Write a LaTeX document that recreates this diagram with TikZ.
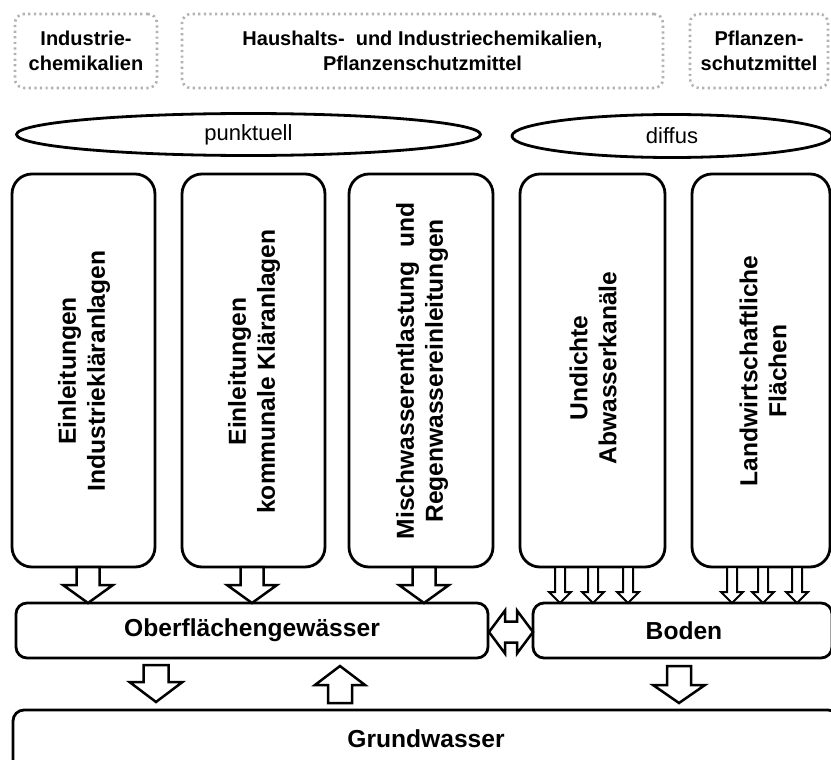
\documentclass[tikz,border=0pt]{standalone}
\usepackage{fontspec}
\setmainfont{Liberation Sans}
\usetikzlibrary{shapes.geometric}

\newcommand\blkarrow[7][]{% [style] x, from y, to y, shaft half width, head half width, head length
  \pgfmathsetmacro\bdir{(#4>#3)?1:-1}%
  \pgfmathsetmacro\bhb{#4-\bdir*#7}%
  \draw[blkarrow,#1] (#2-#5,#3) -- (#2-#5,\bhb) -- (#2-#6,\bhb) -- (#2,#4)
    -- (#2+#6,\bhb) -- (#2+#5,\bhb) -- (#2+#5,#3) -- cycle;}

\begin{document}
\begin{tikzpicture}[x=1pt,y=-1pt,
  srcbox/.style={draw=gray!60, line width=2.6pt, dash pattern=on 2.2pt off 3.4pt,
    rounded corners=9pt, inner sep=0pt, align=center,
    font=\fontsize{20}{25.5}\selectfont\bfseries},
  cat/.style={draw, ellipse, line width=2.8pt, inner sep=0pt,
    font=\fontsize{22}{26}\selectfont},
  colbox/.style={draw, line width=2.8pt, rounded corners=20pt, inner sep=0pt,
    minimum width=#1, minimum height=393pt},
  coltext/.style={rotate=90, align=center, inner sep=0pt,
    font=\fontsize{24.6}{29}\selectfont\bfseries},
  sinkbox/.style={draw, line width=2.8pt, rounded corners=11pt, inner sep=0pt,
    font=\fontsize{24.6}{28}\selectfont\bfseries},
  blkarrow/.style={draw, fill=white, line width=2.5pt, line join=miter},
  thinarrow/.style={line width=2pt}]

\useasboundingbox (0,0) rectangle (831,760);
\clip (0,0) rectangle (831,760);

% source boxes
\node[srcbox, minimum width=142pt, minimum height=74pt] (s1) at (86,51)
  {Industrie-\\chemikalien};
\node[srcbox, minimum width=481pt, minimum height=74pt] (s2) at (422.5,51)
  {Haushalts-\ \ und Industriechemikalien,\\Pflanzenschutzmittel};
\node[srcbox, minimum width=138pt, minimum height=74pt] (s3) at (759,51)
  {Pflanzen-\\schutzmittel};

% categories
\node[cat, minimum width=464pt, minimum height=42pt] (punkt) at (248.5,134.5) {punktuell};
\node[cat, minimum width=320pt, minimum height=43pt] (diff) at (672,136) {diffus};

% columns
\node[colbox=143pt] (c1) at (83.5,370.5) {};
\node[colbox=143pt] (c2) at (253.5,370.5) {};
\node[colbox=144pt] (c3) at (421,370.5) {};
\node[colbox=145pt] (c4) at (592.5,370.5) {};
\node[colbox=138pt] (c5) at (761,370.5) {};

\node[coltext] (t1) at (84,371) {Einleitungen\\Industriekläranlagen};
\node[coltext] (t2) at (254,371.5) {Einleitungen\\kommunale Kläranlagen};
\node[coltext] (t3) at (422,371) {Mischwasserentlastung\ \ und\\Regenwassereinleitungen};
\node[coltext] (t4) at (593,368) {Undichte\\Abwasserkanäle};
\node[coltext] (t5) at (763,371) {Landwirtschaftliche\\Flächen};

% sinks
\node[sinkbox, minimum width=472pt, minimum height=55pt] (ow) at (252,630.5)
  {Oberflächengewässer};
\node[sinkbox, minimum width=299pt, minimum height=55pt] (bo) at (682.5,630.5) {};
\node[font=\fontsize{24.6}{28}\selectfont\bfseries] (bot) at (684,630.5) {Boden};
\node[sinkbox, minimum width=826pt, minimum height=62pt] (gw) at (426,741) {};
\node[font=\fontsize{24.6}{28}\selectfont\bfseries] (gwt) at (426,739) {Grundwasser};

% arrows columns -> surface water
\blkarrow{88}{567}{603}{11.5}{25}{18}
\blkarrow{252}{567}{603}{11.5}{25}{18}
\blkarrow{424}{567}{603}{11.5}{25}{18}

% thin arrows -> soil
\foreach \xx in {560,593,628,732,763,797}
  \blkarrow[thinarrow]{\xx}{567}{603}{5}{11}{11};

% surface water <-> groundwater, soil -> groundwater
\blkarrow{156}{665}{702}{12.5}{26.5}{20}
\blkarrow{340}{703}{666}{12}{25}{19}
\blkarrow{679}{666}{703}{12}{26}{18}

% double arrow between surface water and soil
\draw[blkarrow] (489,632) -- (505,610.5) -- (505,621.5) -- (517,621.5) -- (517,610.5)
  -- (533,632) -- (517,653.5) -- (517,642.5) -- (505,642.5) -- (505,653.5) -- cycle;

\end{tikzpicture}
\end{document}
